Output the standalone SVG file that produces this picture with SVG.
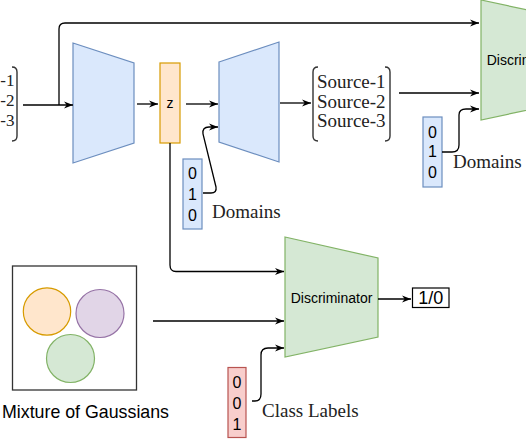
<svg xmlns="http://www.w3.org/2000/svg" width="526" height="439" viewBox="0 0 526 439">
<defs>
<marker id="arr" viewBox="0 0 10 10" refX="10" refY="5" markerWidth="9" markerHeight="9" markerUnits="userSpaceOnUse" orient="auto">
<path d="M0,1 L10,5 L0,9 L3,5 z" fill="#000"/>
</marker>
<style>
.blue{fill:#dae8fc;stroke:#6c8ebf;stroke-width:1.2}
.green{fill:#d5e8d4;stroke:#82b366;stroke-width:1.2}
.orange{fill:#ffe6cc;stroke:#d79b00;stroke-width:1.2}
.purple{fill:#e1d5e7;stroke:#9673a6;stroke-width:1.2}
.red{fill:#f8cecc;stroke:#b85450;stroke-width:1.2}
.conn path{fill:none;stroke:#000;stroke-width:1.3;marker-end:url(#arr)}
.br{fill:none;stroke:#333;stroke-width:1.4}
.sans{font-family:"Liberation Sans",Arial,sans-serif;fill:#000}
.serif{font-family:"Liberation Serif","Times New Roman",serif;font-size:19px;fill:#222}
.dig{font-family:"Liberation Sans",Arial,sans-serif;font-size:16px;text-anchor:middle;fill:#000}
</style>
</defs>
<rect width="526" height="439" fill="#fff"/>

<g id="input">
<path class="br" d="M12,67 Q17,67 17,72 V136 Q17,141 12,141"/>
<text class="serif" font-size="17" style="font-size:17px" text-anchor="end" x="14.5" y="86">-1</text>
<text class="serif" font-size="17" style="font-size:17px" text-anchor="end" x="14.5" y="106">-2</text>
<text class="serif" font-size="17" style="font-size:17px" text-anchor="end" x="14.5" y="126">-3</text>
</g>

<g id="encoder">
<polygon class="blue" points="73,43 134,63 134,143 73,163"/>
</g>

<g id="z">
<rect class="orange" x="160" y="63" width="20" height="80"/>
<text class="sans" font-size="14" text-anchor="middle" x="170" y="108">z</text>
</g>

<g id="decoder">
<polygon class="blue" points="219,62 279,42 279,162 219,142"/>
</g>

<g id="domains-mid">
<rect class="blue" x="183" y="159" width="19" height="70"/>
<text class="dig" x="192.5" y="179">0</text>
<text class="dig" x="192.5" y="200">1</text>
<text class="dig" x="192.5" y="221">0</text>
<text class="serif" x="212" y="218">Domains</text>
</g>

<g id="sources">
<path class="br" d="M318,67 Q313,67 313,72 V136 Q313,141 318,141"/>
<path class="br" d="M385,67 Q390,67 390,72 V136 Q390,141 385,141"/>
<text class="serif" x="317" y="88">Source-1</text>
<text class="serif" x="317" y="108">Source-2</text>
<text class="serif" x="317" y="127">Source-3</text>
</g>

<g id="discriminator-top">
<polygon class="green" points="481,0 574,20 574,100 481,120"/>
<text class="sans" font-size="14" text-anchor="middle" x="527.5" y="65">Discriminator</text>
</g>

<g id="domains-top">
<rect class="blue" x="423" y="117" width="19" height="70"/>
<text class="dig" x="432.5" y="138">0</text>
<text class="dig" x="432.5" y="157">1</text>
<text class="dig" x="432.5" y="178">0</text>
<text class="serif" x="453" y="168">Domains</text>
</g>

<g id="mixture">
<rect x="12.5" y="266" width="124" height="124" fill="#fff" stroke="#333" stroke-width="1.3"/>
<circle class="orange" cx="47" cy="311.5" r="23.7"/>
<circle class="purple" cx="100" cy="313.5" r="24"/>
<circle class="green" cx="70.5" cy="358.5" r="24"/>
<text class="sans" font-size="17.8" x="2" y="418">Mixture of Gaussians</text>
</g>

<g id="discriminator">
<polygon class="green" points="285,237 378,258 378,337 285,357"/>
<text class="sans" font-size="14" text-anchor="middle" x="331.5" y="303">Discriminator</text>
</g>

<g id="output">
<rect x="412.5" y="288" width="36.5" height="19.5" fill="#fff" stroke="#000" stroke-width="1.2"/>
<text class="sans" font-size="18" text-anchor="middle" x="430.7" y="304">1/0</text>
</g>

<g id="class-labels">
<rect class="red" x="228" y="367.5" width="18" height="70"/>
<text class="dig" x="237" y="388">0</text>
<text class="dig" x="237" y="409">0</text>
<text class="dig" x="237" y="430">1</text>
<text class="serif" x="262" y="417">Class Labels</text>
</g>

<g id="connectors" class="conn">
<path d="M23,105 H73"/>
<path d="M59,105 V29 Q59,23 65,23 H479"/>
<path d="M137,104 H158"/>
<path d="M186,104 H218"/>
<path d="M203,193 H211 Q217,193 216,187 L203,134 Q202,127 209,127 H218"/>
<path d="M170,143 V265 Q170,271.5 176,271.5 H284"/>
<path d="M280,103 H311"/>
<path d="M399,93 H479"/>
<path d="M442,152 H452 Q459,152 459,145 V115 Q459,109 466,109 H479"/>
<path d="M378,299 H411"/>
<path d="M153,321 H284"/>
<path d="M252,401 H255 Q261,401 261,394 V355 Q261,348 268,348 H284"/>
</g>
</svg>
